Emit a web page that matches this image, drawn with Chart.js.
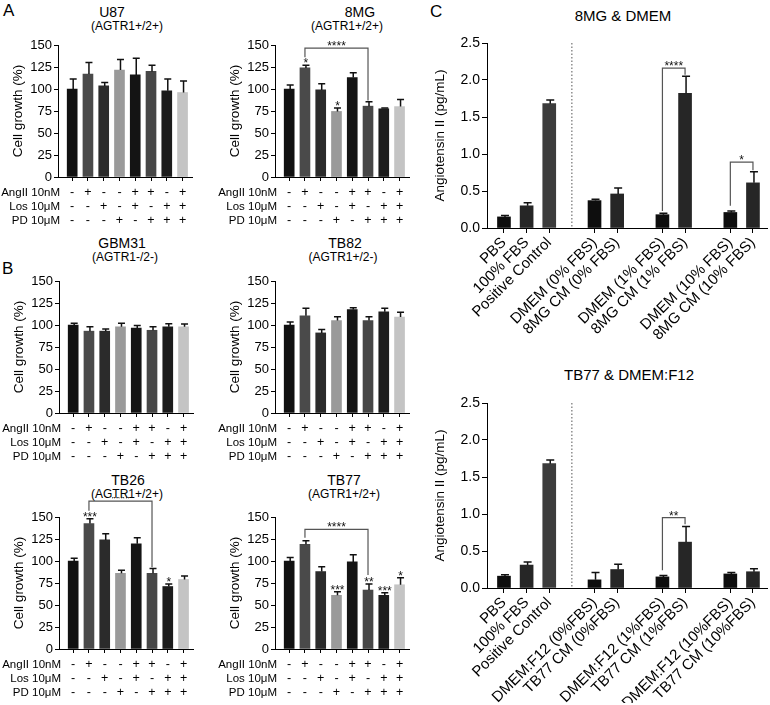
<!DOCTYPE html>
<html>
<head>
<meta charset="utf-8">
<script src="https://cdn.jsdelivr.net/npm/chart.js@4"></script>
<style>
  body { margin: 0; width: 770px; height: 705px; position: relative; overflow: hidden; background: #fff;
         font-family: "Liberation Sans", Arial, Helvetica, sans-serif; color: #000; }
  canvas { position: absolute; }
  .t { position: absolute; transform: translate(-50%, -50%); white-space: nowrap; }
  .ttl { font-size: 14px; }
  .sub { font-size: 12px; }
  .big { font-size: 15px; }
  .let { position: absolute; font-size: 17px; }
</style>
</head>
<body>
<div class="let" style="left:3px;top:1px">A</div>
<div class="let" style="left:2px;top:259px">B</div>
<div class="let" style="left:430px;top:2px">C</div>

<div class="t ttl" style="left:112px;top:12px">U87</div>
<div class="t sub" style="left:127px;top:26px">(AGTR1+/2+)</div>
<div class="t ttl" style="left:360px;top:12px">8MG</div>
<div class="t sub" style="left:347px;top:26px">(AGTR1+/2+)</div>
<div class="t ttl" style="left:122px;top:243px">GBM31</div>
<div class="t sub" style="left:125px;top:257px">(AGTR1-/2-)</div>
<div class="t ttl" style="left:345px;top:243px">TB82</div>
<div class="t sub" style="left:343px;top:257px">(AGTR1+/2-)</div>
<div class="t ttl" style="left:128px;top:480px">TB26</div>
<div class="t sub" style="left:127px;top:494px">(AGTR1+/2+)</div>
<div class="t ttl" style="left:344px;top:480px">TB77</div>
<div class="t sub" style="left:344px;top:494px">(AGTR1+/2+)</div>
<div class="t big" style="left:623px;top:15px">8MG &amp; DMEM</div>
<div class="t big" style="left:629px;top:374px">TB77 &amp; DMEM:F12</div>

<canvas id="u87" width="196" height="204" style="left:0px;top:25px"></canvas>
<canvas id="mg8" width="196" height="204" style="left:217px;top:25px"></canvas>
<canvas id="gbm31" width="196" height="204" style="left:1px;top:261px"></canvas>
<canvas id="tb82" width="196" height="204" style="left:217px;top:261px"></canvas>
<canvas id="tb26" width="196" height="204" style="left:1px;top:497px"></canvas>
<canvas id="tb77" width="196" height="204" style="left:217px;top:497px"></canvas>
<canvas id="c8mg" width="345" height="313" style="left:425px;top:30px"></canvas>
<canvas id="ctb77" width="345" height="313" style="left:425px;top:390px"></canvas>

<script>
// treatment table under the growth panels
const rowNames = ['AngII 10nM', 'Los 10\u03bcM', 'PD 10\u03bcM'];
const angII = ['-', '+', '-', '-', '+', '+', '-', '+'];
const los   = ['-', '-', '+', '-', '+', '-', '+', '+'];
const pd    = ['-', '-', '-', '+', '-', '+', '+', '+'];
const growthTicks = [0, 25, 50, 75, 100, 125, 150];

// cell growth (%), mean and error
const u87Vals = [100, 117, 103.5, 121.5, 116, 120, 98, 96];
const u87Err  = [11.5, 13, 4, 12, 19, 7, 13.5, 13];
const mg8Vals = [100, 124, 99, 74.5, 113, 80.5, 77.5, 80];
const mg8Err  = [4.5, 3, 7, 4, 5.5, 5, 1, 8];
const mg8Stars = ['', '*', '', '*', '', '', '', ''];
const gbmVals = [100, 93, 93, 98, 96.5, 94, 98, 98];
const gbmErr  = [2, 5, 2.5, 4, 3, 4, 3.5, 3];
const tb82Vals = [100, 110.5, 91, 105, 117.5, 105, 115, 109];
const tb82Err  = [3.5, 8.5, 4, 4.5, 2, 4.5, 4, 5.5];
const tb26Vals = [100, 142.5, 124, 86, 119.5, 86, 71, 79];
const tb26Err  = [3, 5.5, 7, 3.5, 7, 5.5, 3, 4];
const tb26Stars = ['', '***', '', '', '', '', '*', ''];
const tb77Vals = [100, 119, 88, 61, 99, 67, 61, 73];
const tb77Err  = [4, 4, 5.5, 4, 8, 7, 3, 8];
const tb77Stars = ['', '', '', '***', '', '**', '***', '*'];

// angiotensin II (pg/mL); '' = empty slot
const c1Cats = ['PBS', '100% FBS', 'Positive Control', '', 'DMEM (0% FBS)', '8MG CM (0% FBS)', '',
                'DMEM (1% FBS)', '8MG CM (1% FBS)', '', 'DMEM (10% FBS)', '8MG CM (10% FBS)'];
const c1Vals = [0.15, 0.30, 1.68, null, 0.37, 0.46, null, 0.18, 1.82, null, 0.21, 0.61];
const c1Err  = [0.02, 0.04, 0.05, null, 0.02, 0.08, null, 0.02, 0.23, null, 0.02, 0.15];
const c2Cats = ['PBS', '100% FBS', 'Positive Control', '', 'DMEM:F12 (0%FBS)', 'TB77 CM (0%FBS)', '',
                'DMEM:F12 (1%FBS)', 'TB77 CM (1%FBS)', '', 'DMEM:F12 (10%FBS)', 'TB77 CM (10%FBS)'];
const c2Vals = [0.16, 0.31, 1.68, null, 0.11, 0.25, null, 0.15, 0.62, null, 0.19, 0.22];
const c2Err  = [0.02, 0.04, 0.05, null, 0.10, 0.07, null, 0.02, 0.21, null, 0.02, 0.04];
const angTicks = [0, 0.5, 1, 1.5, 2, 2.5];

Chart.defaults.font.family = '"Liberation Sans", Arial, Helvetica, sans-serif';
Chart.defaults.color = '#000';

const growthColors = ['#111111', '#4a4a4a', '#2b2b2b', '#9a9a9a', '#141414', '#474747', '#1c1c1c', '#c4c4c4'];
const angColors = ['#0e0e0e', '#262626', '#3c3c3c', null, '#0e0e0e', '#262626', null, '#0e0e0e', '#262626', null, '#0e0e0e', '#262626'];

function drawStars(ctx, txt, x, yc) {
  ctx.fillStyle = '#111';
  ctx.font = '12px "Liberation Sans", Arial';
  ctx.textAlign = 'center';
  ctx.textBaseline = 'alphabetic';
  ctx.fillText(txt, x, yc + 7);
}

// error bars, stars, brackets, divider and table row names
function annot(spec) {
  return {
    id: 'annot',
    afterDatasetsDraw(chart) {
      const ctx = chart.ctx, xs = chart.scales.x, ys = chart.scales.y, area = chart.chartArea;
      ctx.save();
      if (spec.divider != null) {
        const dx = xs.getPixelForValue(spec.divider);
        ctx.strokeStyle = '#555'; ctx.lineWidth = 1; ctx.setLineDash([1.5, 2]);
        ctx.beginPath(); ctx.moveTo(dx, area.top); ctx.lineTo(dx, area.bottom); ctx.stroke();
        ctx.setLineDash([]);
      }
      spec.vals.forEach((v, i) => {
        if (v == null) return;
        const x = xs.getPixelForValue(i) + 1;
        const y0 = ys.getPixelForValue(v), y1 = ys.getPixelForValue(v + spec.errs[i]);
        ctx.strokeStyle = '#111'; ctx.lineWidth = 1.5;
        ctx.beginPath();
        ctx.moveTo(x, y0); ctx.lineTo(x, y1);
        ctx.moveTo(x - spec.cap / 2, y1); ctx.lineTo(x + spec.cap / 2, y1);
        ctx.stroke();
        if (spec.stars && spec.stars[i]) drawStars(ctx, spec.stars[i], x, y1 - 5);
      });
      (spec.brackets || []).forEach(b => {
        const xa = xs.getPixelForValue(b.from), xb = xs.getPixelForValue(b.to);
        const yb = ys.getPixelForValue(b.at);
        ctx.strokeStyle = '#555'; ctx.lineWidth = 1.2;
        ctx.beginPath();
        ctx.moveTo(xa, ys.getPixelForValue(b.left)); ctx.lineTo(xa, yb);
        ctx.lineTo(xb, yb); ctx.lineTo(xb, ys.getPixelForValue(b.right));
        ctx.stroke();
        drawStars(ctx, b.text, (xa + xb) / 2, yb - 5);
      });
      if (spec.rows) {
        ctx.fillStyle = '#000';
        ctx.font = '11.5px "Liberation Sans", Arial';
        ctx.textAlign = 'right'; ctx.textBaseline = 'middle';
        spec.rows.forEach((r, k) => ctx.fillText(r, area.left + 2, area.bottom + 16 + 14 * k));
      }
      ctx.restore();
    }
  };
}

function growthChart(id, vals, errs, stars, brackets) {
  new Chart(document.getElementById(id), {
    type: 'bar',
    data: { datasets: [{ data: vals.map((v, i) => ({ x: i, y: v })), backgroundColor: growthColors,
                         barThickness: 10, borderWidth: 0 }] },
    options: {
      responsive: false, animation: false,
      layout: { padding: { top: 20, right: 4, left: 0, bottom: 0 } },
      plugins: { legend: { display: false }, tooltip: { enabled: false } },
      scales: {
        x: {
          type: 'linear', min: -0.9, max: 7.6, offset: false,
          afterBuildTicks: s => { s.ticks = vals.map((v, i) => ({ value: i })); },
          afterFit: s => { s.height = 52; },
          grid: { drawOnChartArea: false, offset: false, tickLength: 4, color: '#000' },
          border: { color: '#000', width: 1 },
          ticks: { autoSkip: false, minRotation: 0, maxRotation: 0, padding: 5,
                   font: { size: 12.5, lineHeight: 14 / 12.5 },
                   callback: v => [angII[v], los[v], pd[v]] }
        },
        y: {
          min: 0, max: 150,
          afterBuildTicks: s => { s.ticks = growthTicks.map(v => ({ value: v })); },
          afterFit: s => { s.width = 58; },
          grid: { drawOnChartArea: false, tickLength: 4, color: '#000' },
          border: { color: '#000', width: 1 },
          ticks: { padding: 2, font: { size: 13 } },
          title: { display: true, text: 'Cell growth (%)', font: { size: 13.5 }, padding: { top: 10, bottom: 0 } }
        }
      }
    },
    plugins: [annot({ vals, errs, stars, brackets, cap: 7, rows: rowNames })]
  });
}

function angChart(id, cats, vals, errs, brackets) {
  const data = [];
  vals.forEach((v, i) => { if (v != null) data.push({ x: i, y: v }); });
  new Chart(document.getElementById(id), {
    type: 'bar',
    data: { datasets: [{ data, backgroundColor: data.map(d => angColors[d.x]), barThickness: 13, borderWidth: 0 }] },
    options: {
      responsive: false, animation: false,
      layout: { padding: { top: 13, right: 3, left: 0, bottom: 0 } },
      plugins: { legend: { display: false }, tooltip: { enabled: false } },
      scales: {
        x: {
          type: 'linear', min: -0.75, max: 11.62, offset: false,
          afterBuildTicks: s => { s.ticks = cats.map((c, i) => c ? i : null).filter(i => i != null).map(i => ({ value: i })); },
          afterFit: s => { s.height = 115; },
          grid: { drawOnChartArea: false, offset: false, tickLength: 5, color: '#000' },
          border: { color: '#000', width: 1 },
          ticks: { autoSkip: false, minRotation: 45, maxRotation: 45, padding: 1,
                   font: { size: 15 }, callback: v => cats[v] }
        },
        y: {
          min: 0, max: 2.5,
          afterBuildTicks: s => { s.ticks = angTicks.map(v => ({ value: v })); },
          afterFit: s => { s.width = 62; },
          grid: { drawOnChartArea: false, tickLength: 5, color: '#000' },
          border: { color: '#000', width: 1 },
          ticks: { padding: 2, font: { size: 14 }, callback: v => v.toFixed(1) },
          title: { display: true, text: 'Angiotensin II (pg/mL)', font: { size: 13.5 }, padding: { top: 7, bottom: 0 } }
        }
      }
    },
    plugins: [annot({ vals, errs, brackets, cap: 8, divider: cats.indexOf('') })]
  });
}

growthChart('u87', u87Vals, u87Err, null, null);
growthChart('mg8', mg8Vals, mg8Err, mg8Stars, [{ from: 1, to: 5, at: 146.5, left: 136, right: 87, text: '****' }]);
growthChart('gbm31', gbmVals, gbmErr, null, null);
growthChart('tb82', tb82Vals, tb82Err, null, null);
growthChart('tb26', tb26Vals, tb26Err, tb26Stars, [{ from: 1, to: 5, at: 168, left: 157, right: 93, text: '****' }]);
growthChart('tb77', tb77Vals, tb77Err, tb77Stars, [{ from: 1, to: 5, at: 136, left: 126.5, right: 84, text: '****' }]);

angChart('c8mg', c1Cats, c1Vals, c1Err, [
  { from: 7, to: 8, at: 2.16, left: 0.23, right: 2.07, text: '****' },
  { from: 10, to: 11, at: 0.89, left: 0.30, right: 0.78, text: '*' }
]);
angChart('ctb77', c2Cats, c2Vals, c2Err, [
  { from: 7, to: 8, at: 0.95, left: 0.24, right: 0.86, text: '**' }
]);
</script>
</body>
</html>
